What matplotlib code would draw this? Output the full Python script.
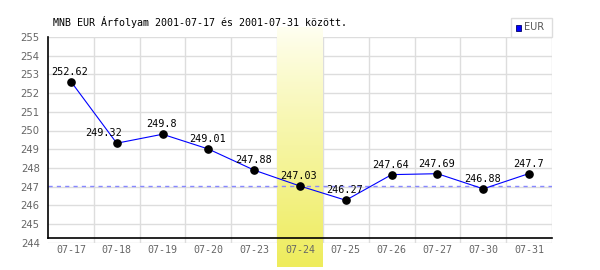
import matplotlib
matplotlib.use("Agg")
import matplotlib.pyplot as plt
import numpy as np
from matplotlib.patches import Rectangle

dates = ["07-17", "07-18", "07-19", "07-20", "07-23", "07-24", "07-25", "07-26", "07-27", "07-30", "07-31"]
eur = [252.62, 249.32, 249.8, 249.01, 247.88, 247.03, 246.27, 247.64, 247.69, 246.88, 247.7]
highlight_idx = 5
yticks = list(range(244, 256))
title = "MNB EUR Árfolyam 2001-07-17 és 2001-07-31 között."
series_name = "EUR"

# label x-offsets in pixels (style)
label_dx = [0, -12, 0, 0, 0, 0, 0, 0, 0, 0, 0]

W, H = 600, 270
fig = plt.figure(figsize=(W / 100, H / 100), dpi=100)
fig.patch.set_facecolor("white")

L, R, T, B = 48, 552, 37, 242.7
ax = fig.add_axes([L / W, 1 - B / H, (R - L) / W, (B - T) / H])
n = len(dates)

grid_c = "#dddddd"
for y in yticks:
    ax.axhline(y, color=grid_c, lw=1, zorder=0.5)
for i in range(n):
    ax.axvline(i + 0.5, color=grid_c, lw=1, zorder=0.5)

# highlight gradient
px_per_unit = (B - T) / 11
y_top = 255 + (T - 27) / px_per_unit
y_bot = 244 - (267 - B) / px_per_unit
grad = np.linspace(0, 1, 256).reshape(-1, 1) ** 0.9
top_c = np.array([255, 255, 242]) / 255
bot_c = np.array([238, 236, 92]) / 255
img = top_c[None, None, :] * (1 - grad[:, :, None]) + bot_c[None, None, :] * grad[:, :, None]
ax.imshow(img, extent=[highlight_idx - 0.5, highlight_idx + 0.5, y_bot, y_top],
          aspect="auto", zorder=1, clip_on=False, origin="upper")
ax.set_xlim(-0.5, n - 0.5)
ax.set_ylim(244, 255)

# reference dashed line at highlighted value
ax.axhline(eur[highlight_idx], color="#8888ff", lw=1, ls=(0, (3, 3)), zorder=1.5)

x = np.arange(n)
ax.plot(x, eur, color="#0000ff", lw=0.8, zorder=3)
ax.plot(x, eur, "o", color="black", ms=5.2, zorder=4)

for i, v in enumerate(eur):
    ax.annotate(f"{v:g}", (i, v), xytext=(label_dx[i] * 0.72 - 0.7, 7.2), textcoords="offset points",
                ha="center", va="center", fontsize=7.3, family="DejaVu Sans Mono", color="black", zorder=5)

# axes frame
for s in ["top", "right", "bottom", "left"]:
    ax.spines[s].set_visible(False)
y_axis = 244 + (B - 238.3) / px_per_unit
ax.plot([-0.5, n - 0.5], [y_axis, y_axis], color="black", lw=1.2, zorder=6, clip_on=False)
ax.plot([-0.5, -0.5], [y_axis, 255], color="black", lw=1.2, zorder=6, clip_on=False)

ax.set_xticks(x)
ax.set_xticklabels(dates, family="DejaVu Sans Mono", fontsize=7.2, color="#666666")
ax.set_yticks(yticks)
ax.set_yticklabels([str(t) for t in yticks], fontsize=7.2, color="#666666")
ax.tick_params(axis="both", length=0)
ax.tick_params(axis="x", pad=2)
ax.tick_params(axis="y", pad=6)

fig.text(53 / W, 1 - 22 / H, title, family="DejaVu Sans Mono", fontsize=7.2, va="center", ha="left")

# legend
lx0, lx1, ly0, ly1 = 511, 552, 18, 37
fig.patches.append(Rectangle((lx0 / W, 1 - ly1 / H), (lx1 - lx0) / W, (ly1 - ly0) / H,
                             transform=fig.transFigure, facecolor="white", edgecolor=grid_c, lw=1))
fig.patches.append(Rectangle((515.5 / W, 1 - 30.5 / H), 5.5 / W, 5.5 / H,
                             transform=fig.transFigure, facecolor="#0000ff", edgecolor="#000066", lw=0.6))
fig.text(524 / W, 1 - 27.5 / H, series_name, fontsize=7, color="#555555", va="center", ha="left")

fig.savefig("out.png", dpi=100)
